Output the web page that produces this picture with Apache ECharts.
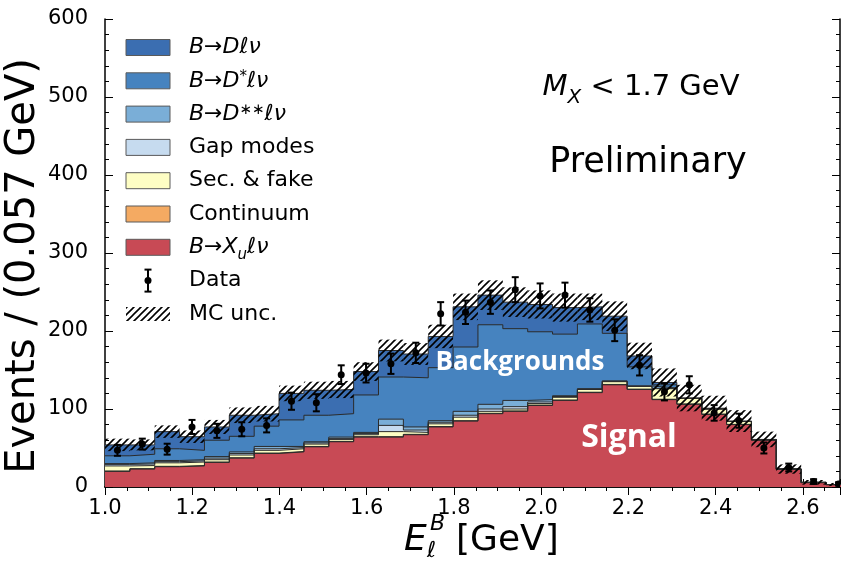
<!DOCTYPE html>
<html>
<head>
<meta charset="utf-8">
<script src="https://cdn.jsdelivr.net/npm/echarts@6/dist/echarts.min.js"></script>
<style>
  html, body { margin: 0; background: #fff; }
  #chart { width: 843px; height: 562px; }
</style>
</head>
<body>
<div id="chart"></div>
<script>
// E_l^B 分布, M_X < 1.7 GeV, 30 个 bin, 宽 0.057 GeV, 从 1.0 开始
const BIN_LO = 1.0;
const BIN_W = 0.057;

// 各成分 (从下往上堆叠)
const xulnu   = [20, 23, 26, 27, 31.5, 37, 43, 45, 51.5, 58, 64, 64, 67, 77, 84.5, 94, 97, 104.5, 111, 121, 131, 125, 112, 106, 93, 80, 60, 22.6, 5.6, 3];
const contin  = [0.5, 0.5, 0.5, 0.5, 0.5, 0.5, 0.5, 0.5, 0.5, 0.5, 0.5, 0.5, 0.5, 0.5, 0.5, 0.5, 0.5, 0.5, 0.5, 0.5, 0.5, 0.5, 0.5, 0.5, 0.5, 0.3, 0.2, 0.1, 0, 0];
const secFake = [6.5, 4, 4.5, 4.5, 3, 3.5, 3.5, 3.5, 3, 2.5, 2.5, 6.5, 2.5, 3.5, 4.5, 2.5, 2.5, 2, 3.5, 3.5, 3.5, 3.5, 13.5, 7, 6.5, 3.7, 0.5, 0.3, 0.3, 0.2];
const gapMod  = [2, 2, 1.5, 1.5, 2, 2, 2, 1.5, 1.5, 1, 1.5, 8, 3, 2, 2.5, 3, 3, 2, 1, 0.5, 0.5, 0.3, 0.5, 0.1, 0.1, 0, 0, 0, 0, 0];
const dss     = [1, 1.5, 1.5, 1.5, 2, 2, 3, 1.5, 1.5, 2, 1.5, 8, 4, 2, 5, 6, 8, 3, 1, 0.5, 0.5, 0.2, 0.5, 0.1, 0.1, 0, 0, 0, 0, 0];
const dst     = [10, 11, 15, 12, 21, 20, 26, 34, 34, 30, 48, 54, 63, 68, 82.5, 102, 92, 87, 79, 83, 61, 24.5, 4, 0.1, 0.1, 0.1, 0, 0, 0, 0];
const dlnu    = [14, 12, 22, 17.5, 17, 27, 16, 34, 32, 31, 30, 34, 30.5, 40, 51.5, 38, 34, 35, 34, 22, 22, 14, 3, 0.2, 0.7, 0.4, 0.3, 0, 0.1, 0];

// MC 不确定度 (半宽)
const mcUnc = [8, 7, 8, 8, 9, 10, 10, 10, 11, 11, 12, 14, 14, 15, 17, 19, 19, 18, 18, 17, 19, 17, 18, 17, 16, 14, 10, 6, 3, 2];

// 数据点
const dataVal = [47, 55, 48.5, 77, 72, 74, 79, 110, 108, 144, 146, 158, 172, 222, 224, 237, 253, 245, 246, 227, 201, 156, 122, 131, 95, 85, 50, 25, 7, 4];
const dataErr = [7, 7, 7, 9, 9, 9, 9, 11, 11, 12, 12, 13, 13, 15, 15, 15, 16, 16, 16, 15, 14, 13, 11, 11, 10, 9, 7, 5, 3, 2];

const COLORS = {
  dlnu: '#3b6eb1',
  dst: '#4683bf',
  dss: '#7aaed7',
  gap: '#c6dbef',
  sec: '#fefec4',
  cont: '#f4aa62',
  xu: '#c84a55',
  edge: '#2b2b2b',
};

const FONT = 'DejaVu Sans';
const NBIN = xulnu.length;
const EDGES = Array.from({ length: NBIN + 1 }, (_, k) => BIN_LO + k * BIN_W);

// 斜线填充
function makeHatch() {
  const s = 7;
  const c = document.createElement('canvas');
  c.width = s; c.height = s;
  const g = c.getContext('2d');
  g.strokeStyle = '#000';
  g.lineWidth = 1.6;
  g.beginPath();
  g.moveTo(0, s); g.lineTo(s, 0);
  g.moveTo(-1, 1); g.lineTo(1, -1);
  g.moveTo(s - 1, s + 1); g.lineTo(s + 1, s - 1);
  g.stroke();
  return { image: c, repeat: 'repeat' };
}
const HATCH = makeHatch();

// 累积堆叠 (从下往上)
const layers = [
  { key: 'xu', vals: xulnu },
  { key: 'cont', vals: contin },
  { key: 'sec', vals: secFake },
  { key: 'gap', vals: gapMod },
  { key: 'dss', vals: dss },
  { key: 'dst', vals: dst },
  { key: 'dlnu', vals: dlnu },
];
let running = new Array(NBIN).fill(0);
layers.forEach(l => {
  running = running.map((r, k) => r + l.vals[k]);
  l.cum = running.slice();
});
const total = layers[layers.length - 1].cum;

function stepData(vals) {
  const pts = vals.map((v, k) => [EDGES[k], v]);
  pts.push([EDGES[NBIN], vals[NBIN - 1]]);
  return pts;
}

// 顶层先画, 底层后画覆盖
const stackSeries = layers.slice().reverse().map(l => ({
  type: 'line',
  step: 'end',
  symbol: 'none',
  silent: true,
  data: stepData(l.cum),
  lineStyle: { color: COLORS.edge, width: 1 },
  areaStyle: { color: COLORS[l.key], opacity: 1 },
  z: 2,
}));

const hatchData = total.map((t, k) => [EDGES[k], EDGES[k + 1], t - mcUnc[k], t + mcUnc[k]]);
const pointData = dataVal.map((v, k) => [(EDGES[k] + EDGES[k + 1]) / 2, v, dataErr[k]]);

const chart = echarts.init(document.getElementById('chart'), null, { renderer: 'canvas' });

const axisCommon = {
  axisLine: { show: true, lineStyle: { color: '#000', width: 1.5 } },
  axisTick: { show: true, inside: true, length: 8, lineStyle: { color: '#000', width: 1 } },
  minorTick: { show: true, length: 4, lineStyle: { color: '#000', width: 1 } },
  splitLine: { show: false },
};

// legend 手画
const LEG_X = 126, LEG_W = 44, LEG_H = 16, LEG_Y0 = 47.5, LEG_DY = 33.3, TXT_X = 189;
const legPatch = [COLORS.dlnu, COLORS.dst, COLORS.dss, COLORS.gap, COLORS.sec, COLORS.cont, COLORS.xu];
const legText = [
  '{i|B→Dℓν}',
  '{i|B→D}{sup|*}{i|ℓν}',
  '{i|B→D}{sup|∗∗}{i|ℓν}',
  '{n|Gap modes}',
  '{n|Sec. & fake}',
  '{n|Continuum}',
  '{i|B→X}{sub|u}{i|ℓν}',
  '{n|Data}',
  '{n|MC unc.}',
];
const rich = {
  i: { fontFamily: FONT, fontStyle: 'italic', fontSize: 22, color: '#000' },
  n: { fontFamily: FONT, fontSize: 22, color: '#000' },
  sup: { fontFamily: FONT, fontStyle: 'italic', fontSize: 15, color: '#000', verticalAlign: 'top' },
  sub: { fontFamily: FONT, fontStyle: 'italic', fontSize: 15, color: '#000', verticalAlign: 'bottom', padding: [0, 0, -4, 0] },
};
const graphics = [];
legPatch.forEach((c, i) => {
  graphics.push({
    type: 'rect', silent: true, z: 10,
    shape: { x: LEG_X, y: LEG_Y0 + LEG_DY * i - LEG_H / 2, width: LEG_W, height: LEG_H },
    style: { fill: c, stroke: '#5a5a5a', lineWidth: 1 },
  });
});
// Data 图例
const dy = LEG_Y0 + LEG_DY * 7;
graphics.push(
  { type: 'line', silent: true, z: 10, shape: { x1: 148, y1: dy - 11, x2: 148, y2: dy + 11 }, style: { stroke: '#000', lineWidth: 2 } },
  { type: 'line', silent: true, z: 10, shape: { x1: 144.5, y1: dy - 11, x2: 151.5, y2: dy - 11 }, style: { stroke: '#000', lineWidth: 2 } },
  { type: 'line', silent: true, z: 10, shape: { x1: 144.5, y1: dy + 11, x2: 151.5, y2: dy + 11 }, style: { stroke: '#000', lineWidth: 2 } },
  { type: 'circle', silent: true, z: 10, shape: { cx: 148, cy: dy, r: 3.5 }, style: { fill: '#000' } }
);
// MC unc 图例
const my = LEG_Y0 + LEG_DY * 8;
graphics.push({
  type: 'rect', silent: true, z: 10,
  shape: { x: LEG_X, y: my - 7, width: LEG_W, height: 14 },
  style: { fill: HATCH, stroke: null },
});
legText.forEach((t, i) => {
  graphics.push({
    type: 'text', silent: true, z: 10,
    x: TXT_X, y: LEG_Y0 + LEG_DY * i,
    style: { text: t, rich, verticalAlign: 'middle', align: 'left' },
  });
});

// 注释文字
graphics.push(
  {
    type: 'text', silent: true, z: 10, x: 641, y: 87,
    style: {
      text: '{i|M}{sub|X}{n| < 1.7 GeV}',
      align: 'center', verticalAlign: 'middle',
      rich: {
        i: { fontFamily: FONT, fontStyle: 'italic', fontSize: 29, color: '#000' },
        n: { fontFamily: FONT, fontSize: 29, color: '#000' },
        sub: { fontFamily: FONT, fontStyle: 'italic', fontSize: 20, color: '#000', verticalAlign: 'bottom', padding: [0, 0, -6, 0] },
      },
    },
  },
  {
    type: 'text', silent: true, z: 10, x: 648, y: 163,
    style: { text: 'Preliminary', fontFamily: FONT, fontSize: 35, fill: '#000', align: 'center', verticalAlign: 'middle' },
  },
  {
    type: 'text', silent: true, z: 10, x: 520, y: 363,
    style: { text: 'Backgrounds', fontFamily: 'Open Sans', fontWeight: 'bold', fontSize: 26, fill: '#fff', align: 'center', verticalAlign: 'middle' },
  },
  {
    type: 'text', silent: true, z: 10, x: 629, y: 438,
    style: { text: 'Signal', fontFamily: 'Open Sans', fontWeight: 'bold', fontSize: 32, fill: '#fff', align: 'center', verticalAlign: 'middle' },
  },
  // 坐标轴标题
  {
    type: 'text', silent: true, z: 10, x: 24, y: 266, rotation: Math.PI / 2,
    style: { text: 'Events / (0.057 GeV)', fontFamily: FONT, fontSize: 40, fill: '#000', align: 'center', verticalAlign: 'middle' },
  },
  {
    type: 'text', silent: true, z: 10, x: 404, y: 541,
    style: { text: 'E', fontFamily: FONT, fontStyle: 'italic', fontSize: 36, fill: '#000', align: 'left', verticalAlign: 'middle' },
  },
  {
    type: 'text', silent: true, z: 10, x: 430, y: 524,
    style: { text: 'B', fontFamily: FONT, fontStyle: 'italic', fontSize: 22, fill: '#000', align: 'left', verticalAlign: 'middle' },
  },
  {
    type: 'text', silent: true, z: 10, x: 427, y: 551,
    style: { text: 'ℓ', fontFamily: FONT, fontStyle: 'italic', fontSize: 22, fill: '#000', align: 'left', verticalAlign: 'middle' },
  },
  {
    type: 'text', silent: true, z: 10, x: 456, y: 541,
    style: { text: '[GeV]', fontFamily: FONT, fontSize: 36, fill: '#000', align: 'left', verticalAlign: 'middle' },
  }
);

const option = {
  animation: false,
  backgroundColor: '#fff',
  grid: { left: 105, right: 3, top: 19, bottom: 75, containLabel: false },
  xAxis: [
    Object.assign({}, axisCommon, {
      type: 'value', position: 'bottom', min: 1.0, max: 2.685, interval: 0.2,
      minorTick: Object.assign({}, axisCommon.minorTick, { splitNumber: 4 }),
      axisLabel: {
        fontFamily: FONT, fontSize: 21, color: '#000', margin: 11,
        showMaxLabel: false, formatter: v => v.toFixed(1),
      },
    }),
    Object.assign({}, axisCommon, {
      type: 'value', position: 'top', min: 1.0, max: 2.685, interval: 0.2,
      minorTick: Object.assign({}, axisCommon.minorTick, { splitNumber: 4 }),
      axisLabel: { show: false },
    }),
  ],
  yAxis: [
    Object.assign({}, axisCommon, {
      type: 'value', position: 'left', min: 0, max: 600, interval: 100,
      minorTick: Object.assign({}, axisCommon.minorTick, { splitNumber: 5 }),
      axisLabel: { fontFamily: FONT, fontSize: 21, color: '#000', margin: 17 },
    }),
    Object.assign({}, axisCommon, {
      type: 'value', position: 'right', min: 0, max: 600, interval: 100,
      minorTick: Object.assign({}, axisCommon.minorTick, { splitNumber: 5 }),
      axisLabel: { show: false },
    }),
  ],
  series: stackSeries.concat([
    {
      type: 'custom',
      silent: true,
      z: 3,
      data: hatchData,
      encode: { x: [0, 1], y: [2, 3] },
      renderItem: (params, api) => {
        const p0 = api.coord([api.value(0), api.value(2)]);
        const p1 = api.coord([api.value(1), api.value(3)]);
        const shape = echarts.graphic.clipRectByRect(
          { x: p0[0], y: p1[1], width: p1[0] - p0[0], height: p0[1] - p1[1] },
          { x: params.coordSys.x, y: params.coordSys.y, width: params.coordSys.width, height: params.coordSys.height }
        );
        return shape && { type: 'rect', shape, style: { fill: HATCH, stroke: null } };
      },
    },
    {
      type: 'custom',
      silent: true,
      z: 4,
      clip: true,
      data: pointData,
      encode: { x: 0, y: 1 },
      renderItem: (params, api) => {
        const x = api.value(0), v = api.value(1), e = api.value(2);
        const c = api.coord([x, v]);
        const lo = api.coord([x, v - e]);
        const hi = api.coord([x, v + e]);
        const st = { stroke: '#000', lineWidth: 2 };
        return {
          type: 'group',
          children: [
            { type: 'line', shape: { x1: c[0], y1: lo[1], x2: c[0], y2: hi[1] }, style: st },
            { type: 'line', shape: { x1: c[0] - 3.5, y1: lo[1], x2: c[0] + 3.5, y2: lo[1] }, style: st },
            { type: 'line', shape: { x1: c[0] - 3.5, y1: hi[1], x2: c[0] + 3.5, y2: hi[1] }, style: st },
            { type: 'circle', shape: { cx: c[0], cy: c[1], r: 3.5 }, style: { fill: '#000' } },
          ],
        };
      },
    },
  ]),
  graphic: graphics,
};

chart.setOption(option);
</script>
</body>
</html>
